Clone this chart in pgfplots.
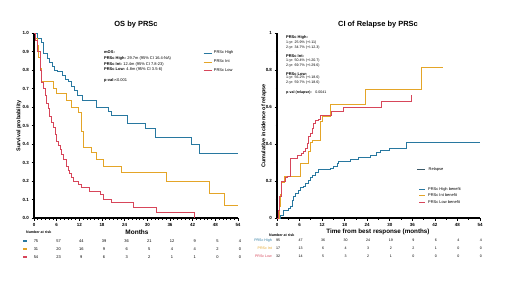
\documentclass[border=0pt]{standalone}
\usepackage{pgfplots}
\pgfplotsset{compat=1.18}
\usepackage{fontspec}
\setmainfont{Liberation Sans}
\definecolor{cHigh}{RGB}{40,120,160}
\definecolor{cInt}{RGB}{228,165,40}
\definecolor{cLow}{RGB}{215,70,90}
\definecolor{cRel}{RGB}{60,90,105}
\newcommand{\fs}[1]{\fontsize{#1}{#1}\selectfont}
\begin{document}
\begin{tikzpicture}
\useasboundingbox[fill=white] (0bp,0bp) rectangle (520bp,292bp);
\pgfplotsset{
  panel/.style={
    anchor=south west, scale only axis, height=185bp,
    xmin=0, xmax=54, ymin=0, ymax=1, clip=false,
    axis x line=bottom, axis y line=left,
    axis line style={-, line width=1.1bp, black},
    tick align=outside, xtick={0,6,...,54},
    major tick length=2.5bp, minor tick length=1.5bp,
    every tick/.style={line width=0.7bp, black},
    ticklabel style={font=\fs{4.5}\bfseries},
    /pgf/number format/assume math mode=true,
    xticklabel style={yshift=1bp},
    yticklabel style={xshift=1bp},
  }
}
% ---------------- left panel: OS ----------------
\begin{axis}[panel, at={(34bp,74bp)}, width=204bp,
  ytick={0,0.1,0.2,0.3,0.4,0.5,0.6,0.7,0.8,0.9,1.0},
  minor x tick num=5,
  yticklabel style={/pgf/number format/.cd, fixed, fixed zerofill, precision=1},
  legend style={draw=none, fill=none, font=\fs{4}, at={(axis cs:44.7,0.915)}, anchor=north west,
    inner sep=0pt, row sep=0.6bp, cells={anchor=west}},
  legend image code/.code={\draw[#1, line width=0.9bp] (0bp,0bp) -- (8bp,0bp);},
]
\addplot[cHigh, line width=0.9bp, const plot] coordinates {
(0,1) (1,0.97) (2,0.95) (2.5,0.89) (3.5,0.86) (4.2,0.84) (4.8,0.82) (5.5,0.80)
(6.3,0.79) (7.4,0.77) (8.2,0.75) (9,0.74) (10,0.71) (10.8,0.69) (11.6,0.665)
(12.7,0.635) (16.6,0.60) (19.6,0.575) (20.5,0.557) (24.7,0.51) (29.6,0.485)
(32.2,0.438) (41.7,0.395) (43.9,0.35) (54,0.35)};
\addlegendentry{PRSc High}
\addplot[cInt, line width=0.9bp, const plot] coordinates {
(0,1) (0.5,0.97) (1,0.935) (1.3,0.87) (1.6,0.81) (2,0.74) (5.1,0.70) (6,0.672)
(8.6,0.638) (10,0.60) (11.7,0.57) (12.6,0.47) (13.2,0.38) (15.3,0.353)
(16.6,0.317) (18.3,0.28) (23.2,0.245) (35,0.195) (46.4,0.132) (50.3,0.069) (54,0.069)};
\addlegendentry{PRSc Int}
\addplot[cLow, line width=0.9bp, const plot] coordinates {
(0,1) (0.5,0.96) (1,0.9) (1.6,0.80) (2,0.73) (2.5,0.70) (2.9,0.66) (3.4,0.62)
(3.8,0.59) (4.2,0.55) (4.7,0.515) (5.1,0.49) (5.6,0.45) (6,0.415) (6.4,0.39)
(6.9,0.37) (7.3,0.345) (7.8,0.317) (8.6,0.28) (9.1,0.255) (9.5,0.24) (10,0.22)
(10.4,0.20) (11.7,0.182) (12.6,0.164) (14.8,0.146) (17.5,0.128) (18.3,0.10)
(20.5,0.083) (26.3,0.056) (32.5,0.029) (42.6,0)};
\addlegendentry{PRSc Low}
\end{axis}
% ---------------- right panel: CI of relapse ----------------
\begin{axis}[panel, at={(277bp,74bp)}, width=203bp,
  ytick={0,0.2,0.4,0.6,0.8,1}, minor y tick num=1, minor x tick num=1,
]
\addplot[cHigh, line width=0.8bp, const plot] coordinates {
(0,0) (0.9,0.016) (1.8,0.043) (3.1,0.052) (3.5,0.065) (4,0.097) (4.4,0.115)
(4.9,0.133) (5.8,0.151) (6.2,0.166) (7.1,0.173) (7.5,0.187) (8.4,0.205)
(8.9,0.22) (9.3,0.232) (10.2,0.245) (11.1,0.26) (14.2,0.268) (15.1,0.277)
(16,0.295) (16.4,0.305) (19.5,0.317) (21.7,0.33) (24.8,0.34) (26.5,0.355)
(27.5,0.368) (30,0.375) (34.5,0.41) (54,0.41)};
\addplot[cInt, line width=0.8bp, const plot] coordinates {
(0,0) (0.6,0.06) (1,0.13) (1.3,0.19) (2,0.227) (6.2,0.295) (8.4,0.359)
(8.9,0.41) (9.3,0.42) (11.5,0.52) (12,0.55) (14.3,0.615) (23.4,0.696)
(38.5,0.815) (44.2,0.815)};
\addplot[cLow, line width=0.8bp, const plot] coordinates {
(0,0) (0.3,0.043) (0.6,0.115) (1.1,0.17) (1.3,0.196) (2.2,0.22) (2.7,0.227)
(3.5,0.323) (5.3,0.34) (6.6,0.35) (7.1,0.359) (7.5,0.377) (8,0.404) (8.4,0.44)
(8.9,0.458) (9.3,0.485) (9.8,0.51) (10.2,0.53) (11.1,0.533) (11.5,0.557)
(14.5,0.575) (17.6,0.597) (27.8,0.63) (35.8,0.665)};
\end{axis}
\begin{scope}[x=1bp,y=1bp]
% ---------------- titles and labels ----------------
\node[font=\fs{7.5}\bfseries] at (136,267.5) {OS by PRSc};
\node[font=\fs{7.5}\bfseries] at (378,267) {CI of Relapse by PRSc};
\node[font=\fs{5.5}\bfseries, rotate=90] at (19,166) {Survival probability};
\node[font=\fs{5.5}\bfseries, rotate=90] at (264,166) {Cumulative incidence of relapse};
\node[font=\fs{6.5}\bfseries] at (137,60) {Months};
\node[font=\fs{6.3}\bfseries] at (378,60) {Time from best response (months)};
% left annotation
\begin{scope}[every node/.style={anchor=west, inner sep=0pt, font=\fs{4}}]
\node at (104,239.5) {\bfseries mOS:};
\node at (104,233.3) {\bfseries PRSc High: \mdseries 29.7m (95\% CI 16.4-NA)};
\node at (104,228) {\bfseries PRSc Int: \mdseries 12.4m (95\% CI 7.8-23)};
\node at (104,222.3) {\bfseries PRSc Low: \mdseries 4.8m (95\% CI 3.5-6)};
\node at (104,212) {\bfseries p-val:\mdseries <0.001};
\end{scope}
% right annotation
\begin{scope}[every node/.style={anchor=west, inner sep=0pt, font=\fs{3.6}}]
\node[font=\fs{4}\bfseries] at (286,254.3) {PRSc High:};
\node at (286,249.3) {1-yr: 25.9\% (+/-11)};
\node at (286,244.7) {2-yr: 34.7\% (+/-12.3)};
\node[font=\fs{4}\bfseries] at (286,236) {PRSc Int:};
\node at (286,231) {1-yr: 50.4\% (+/-20.7)};
\node at (286,226) {2-yr: 69.7\% (+/-29.6)};
\node[font=\fs{4}\bfseries] at (286,218.3) {PRSc Low:};
\node at (286,214) {1-yr: 56.2\% (+/-18.6)};
\node at (286,209.3) {2-yr: 59.7\% (+/-18.6)};
\node at (286,199.7) {\bfseries p-val (relapse):\mdseries\quad 0.0041};
\end{scope}
% right legend
\draw[cRel, line width=0.9bp] (417,123) -- (425,123);
\node[anchor=west, inner sep=0pt, font=\fs{4}] at (428.5,123) {Relapse};
\draw[cHigh, line width=0.6bp] (419,103) -- (425,103);
\draw[cInt, line width=0.6bp] (419,96.5) -- (425,96.5);
\draw[cLow, line width=0.6bp] (419,90) -- (425,90);
\node[anchor=west, inner sep=0pt, font=\fs{4}] at (428,103) {PRSc High benefit};
\node[anchor=west, inner sep=0pt, font=\fs{4}] at (428,96.5) {PRSc Int benefit};
\node[anchor=west, inner sep=0pt, font=\fs{4}] at (428,90) {PRSc Low benefit};
% number at risk, left
\node[anchor=west, inner sep=0pt, font=\fs{3.6}\bfseries] at (26,60) {Number at risk};
\draw[cHigh, line width=1.3bp] (23,51) -- (27,51);
\draw[cInt, line width=1.3bp] (23,43) -- (27,43);
\draw[cLow, line width=1.3bp] (23,35) -- (27,35);
\begin{scope}[every node/.style={inner sep=0pt, font=\fs{4}}]
\foreach \v [count=\i from 0] in {75,57,44,39,36,21,12,9,5,4}
  \node at ({36+\i*22.67},51) {\v};
\foreach \v [count=\i from 0] in {31,20,16,9,6,5,4,4,2,0}
  \node at ({36+\i*22.67},43) {\v};
\foreach \v [count=\i from 0] in {54,23,9,6,3,2,1,1,0,0}
  \node at ({36+\i*22.67},35) {\v};
\end{scope}
% number at risk, right
\node[anchor=west, inner sep=0pt, font=\fs{3.6}\bfseries] at (269,57) {Number at risk};
\begin{scope}[every node/.style={inner sep=0pt, font=\fs{3.6}}]
\node[anchor=east, text=cHigh] at (272,51.3) {PRSc High};
\node[anchor=east, text=cInt] at (272,43.7) {PRSc Int};
\node[anchor=east, text=cLow] at (272,36) {PRSc Low};
\foreach \v [count=\i from 0] in {95,47,36,30,24,19,9,6,4,4}
  \node at ({278+\i*22.55},51.3) {\v};
\foreach \v [count=\i from 0] in {17,13,6,4,3,2,2,1,0,0}
  \node at ({278+\i*22.55},43.7) {\v};
\foreach \v [count=\i from 0] in {32,14,5,3,2,1,0,0,0,0}
  \node at ({278+\i*22.55},36) {\v};
\end{scope}
\end{scope}
\end{tikzpicture}
\end{document}
